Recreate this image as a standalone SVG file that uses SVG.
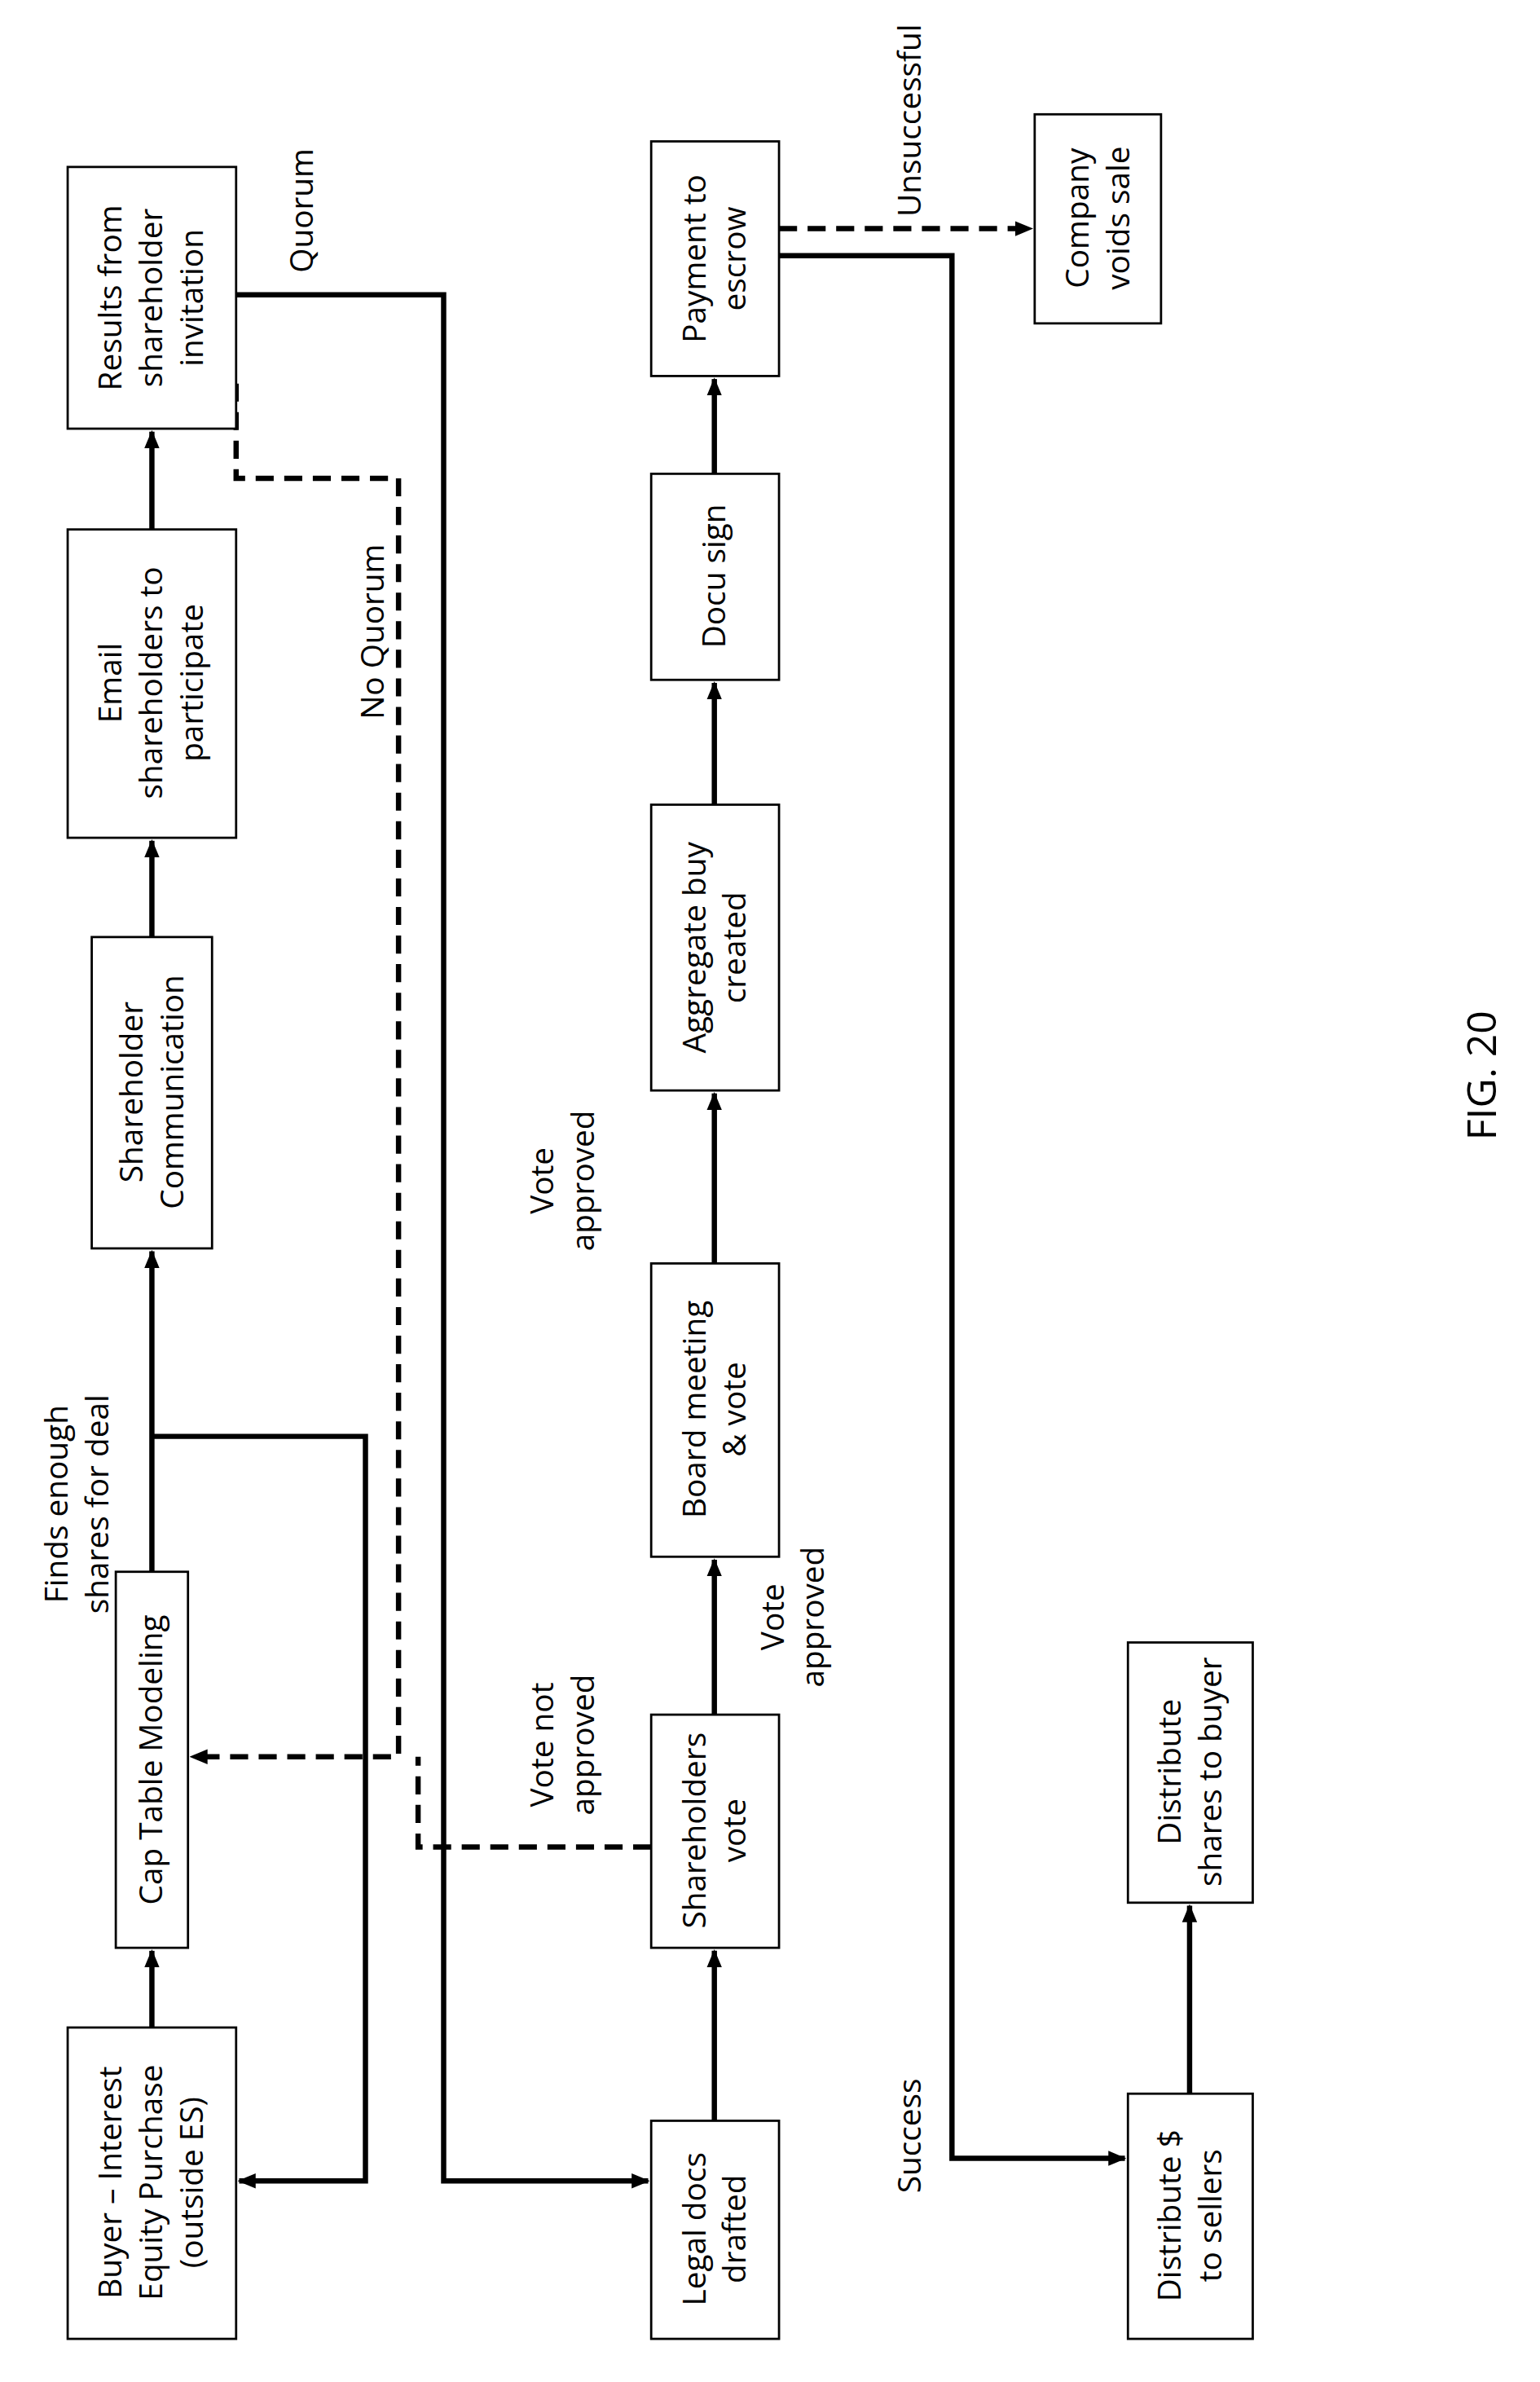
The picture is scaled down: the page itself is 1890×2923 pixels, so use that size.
<svg xmlns="http://www.w3.org/2000/svg" width="1890" height="2923" viewBox="0 0 1890 2923">
<style>
.b{fill:#fff;stroke:#000;stroke-width:1.5}
.t{font-family:"Open Sans","Liberation Sans",sans-serif;font-size:21px;text-anchor:middle;fill:#000}
.s{fill:none;stroke:#000;stroke-width:3.5}
.d{fill:none;stroke:#000;stroke-width:3.5;stroke-dasharray:12 7}
</style>
<defs><marker id="a" markerWidth="12" markerHeight="12" refX="11" refY="6" orient="auto" markerUnits="userSpaceOnUse" viewBox="0 0 12 12"><path d="M0,1L12,6L0,11z" fill="#000"/></marker></defs>
<rect width="1890" height="2923" fill="#fff"/>
<g transform="scale(1.8457)">
<g id="connectors">
<path class="s" marker-end="url(#a)" d="M101,1348V1297"/>
<path class="s" marker-end="url(#a)" d="M101,1045V832"/>
<path class="s" marker-end="url(#a)" d="M101,623V559"/>
<path class="s" marker-end="url(#a)" d="M101,352V287"/>
<path class="s" marker-end="url(#a)" d="M475,1410V1297"/>
<path class="s" marker-end="url(#a)" d="M475,1140V1037"/>
<path class="s" marker-end="url(#a)" d="M475,840V727"/>
<path class="s" marker-end="url(#a)" d="M475,535V454"/>
<path class="s" marker-end="url(#a)" d="M475,315V252"/>
<path class="s" marker-end="url(#a)" d="M791,1392V1267"/>
<path class="s" marker-end="url(#a)" d="M101,955H243V1450H159"/>
<path class="s" marker-end="url(#a)" d="M157,196H295V1450H431"/>
<path class="d" marker-end="url(#a)" d="M157,255V318H265V1168H127"/>
<path class="d" d="M433,1228H278V1168"/>
<path class="d" marker-end="url(#a)" d="M518,152H686"/>
<path class="s" marker-end="url(#a)" d="M518,170H633V1435H748"/>
<text class="t" transform="rotate(-90 45 1000)" x="45" y="1000">Finds enough<tspan x="45" dy="27">shares for deal</tspan></text>
<text class="t" transform="rotate(-90 208 140)" x="208" y="140">Quorum</text>
<text class="t" transform="rotate(-90 255 420)" x="255" y="420">No Quorum</text>
<text class="t" transform="rotate(-90 368 1160)" x="368" y="1160">Vote not<tspan x="368" dy="27">approved</tspan></text>
<text class="t" transform="rotate(-90 521 1075)" x="521" y="1075">Vote<tspan x="521" dy="27">approved</tspan></text>
<text class="t" transform="rotate(-90 368 785)" x="368" y="785">Vote<tspan x="368" dy="27">approved</tspan></text>
<text class="t" transform="rotate(-90 612 80)" x="612" y="80">Unsuccessful</text>
<text class="t" transform="rotate(-90 612 1420)" x="612" y="1420">Success</text>
</g>
<g id="n1"><rect class="b" x="45" y="1348" width="112" height="207"/><text class="t" transform="rotate(-90 101 1451)" x="101" y="1451" dy="-20">Buyer – Interest<tspan x="101" dy="27">Equity Purchase</tspan><tspan x="101" dy="27">(outside ES)</tspan></text></g>
<g id="n2"><rect class="b" x="77" y="1045" width="48" height="250"/><text class="t" transform="rotate(-90 101 1170)" x="101" y="1177">Cap Table Modeling</text></g>
<g id="n3"><rect class="b" x="61" y="623" width="80" height="207"/><text class="t" transform="rotate(-90 101 726)" x="101" y="720">Shareholder<tspan x="101" dy="27">Communication</tspan></text></g>
<g id="n4"><rect class="b" x="45" y="352" width="112" height="205"/><text class="t" transform="rotate(-90 101 454)" x="101" y="454" dy="-20">Email<tspan x="101" dy="27">shareholders to</tspan><tspan x="101" dy="27">participate</tspan></text></g>
<g id="n5"><rect class="b" x="45" y="111" width="112" height="174"/><text class="t" transform="rotate(-90 101 198)" x="101" y="198" dy="-20">Results from<tspan x="101" dy="27">shareholder</tspan><tspan x="101" dy="27">invitation</tspan></text></g>
<g id="n6"><rect class="b" x="433" y="1410" width="85" height="145"/><text class="t" transform="rotate(-90 475 1482)" x="475" y="1476">Legal docs<tspan x="475" dy="27">drafted</tspan></text></g>
<g id="n7"><rect class="b" x="433" y="1140" width="85" height="155"/><text class="t" transform="rotate(-90 475 1217)" x="475" y="1211">Shareholders<tspan x="475" dy="27">vote</tspan></text></g>
<g id="n8"><rect class="b" x="433" y="840" width="85" height="195"/><text class="t" transform="rotate(-90 475 937)" x="475" y="931">Board meeting<tspan x="475" dy="27">&amp; vote</tspan></text></g>
<g id="n9"><rect class="b" x="433" y="535" width="85" height="190"/><text class="t" transform="rotate(-90 475 630)" x="475" y="624">Aggregate buy<tspan x="475" dy="27">created</tspan></text></g>
<g id="n10"><rect class="b" x="433" y="315" width="85" height="137"/><text class="t" transform="rotate(-90 475 383)" x="475" y="390">Docu sign</text></g>
<g id="n11"><rect class="b" x="433" y="94" width="85" height="156"/><text class="t" transform="rotate(-90 475 172)" x="475" y="166">Payment to<tspan x="475" dy="27">escrow</tspan></text></g>
<g id="n12"><rect class="b" x="688" y="76" width="84" height="139"/><text class="t" transform="rotate(-90 730 145)" x="730" y="139">Company<tspan x="730" dy="27">voids sale</tspan></text></g>
<g id="n13"><rect class="b" x="750" y="1392" width="83" height="163"/><text class="t" transform="rotate(-90 791 1473)" x="791" y="1467">Distribute $<tspan x="791" dy="27">to sellers</tspan></text></g>
<g id="n14"><rect class="b" x="750" y="1092" width="83" height="173"/><text class="t" transform="rotate(-90 791 1178)" x="791" y="1172">Distribute<tspan x="791" dy="27">shares to buyer</tspan></text></g>
<text class="t" style="font-size:27px" transform="rotate(-90 995 715)" x="995" y="715">FIG. 20</text>
</g>
</svg>
